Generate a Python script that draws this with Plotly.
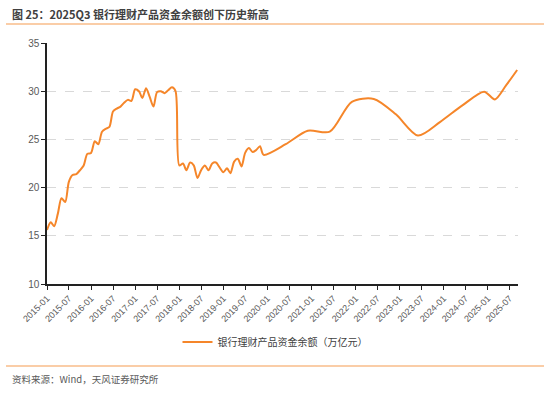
import pandas as pd
import plotly.graph_objects as go

# Monthly balances 2015-01 .. 2019-12 (万亿元)
monthly_values = [
    15.6, 16.4, 16.0, 17.3, 18.9, 18.5, 20.6, 21.3, 21.4, 21.8, 22.3, 23.5,
    23.6, 24.8, 24.5, 25.8, 26.1, 26.3, 27.9, 28.2, 28.4, 28.8, 29.1, 29.0,
    30.2, 30.0, 29.3, 30.3, 29.4, 28.4, 29.9, 30.0, 29.8, 30.1, 30.4, 30.0,
    22.3, 22.5, 21.8, 22.6, 22.3, 21.0, 21.8, 22.3, 21.8, 22.5, 22.6, 22.1,
    21.6, 22.0, 21.5, 22.7, 23.0, 22.2, 23.6, 24.1, 23.7, 23.9, 24.3, 23.4,
]
monthly_dates = [d.strftime("%Y-%m-%d") for d in pd.date_range("2015-01-01", periods=len(monthly_values), freq="MS")]

# Later, sparser observations
later_dates = ["2020-06-01", "2020-12-01", "2021-06-01", "2021-12-01", "2022-06-01",
               "2022-12-01", "2023-06-01", "2023-12-01", "2024-06-01", "2024-12-01",
               "2025-03-01", "2025-06-01", "2025-09-01"]
later_values = [24.5, 25.9, 25.8, 28.9, 29.2, 27.6, 25.4, 26.8, 28.5, 29.95, 29.15, 30.6, 32.2]

dates = monthly_dates + later_dates
values = monthly_values + later_values

tick_vals = [d.strftime("%Y-%m-%d") for d in pd.date_range("2015-01-01", "2025-07-01", freq="6MS")]
tick_text = [d[:7] for d in tick_vals]

series_name = "银行理财产品资金余额（万亿元）"
title_text = "图 25：2025Q3 银行理财产品资金余额创下历史新高"
source_text = "资料来源：Wind，天风证券研究所"

ORANGE = "#F5862A"
LIGHT_ORANGE = "#F9BD8A"
FONT = "Liberation Sans, Noto Sans CJK SC, sans-serif"

fig = go.Figure()
fig.add_trace(go.Scatter(
    x=dates, y=values, mode="lines", name=series_name,
    line=dict(color=ORANGE, width=2, shape="spline", smoothing=0.8),
))

L, R, T, B = 47, 32, 43, 109
W, H = 550, 393
pw, ph = W - L - R, H - T - B

def px(x):
    return (x - L) / pw

def py(y):
    return (H - B - y) / ph

fig.update_layout(
    width=W, height=H,
    margin=dict(l=L, r=R, t=T, b=B, autoexpand=False),
    paper_bgcolor="white", plot_bgcolor="white",
    font=dict(family=FONT, color="#595959", size=10),
    showlegend=True,
    legend=dict(orientation="h", x=px(275), xanchor="center", y=py(342), yanchor="middle",
                font=dict(size=10, color="#404040", family="Noto Sans CJK SC, sans-serif")),
    xaxis=dict(
        type="date", range=["2015-01-01", "2025-09-08"],
        tickvals=tick_vals, ticktext=tick_text, tickangle=-45,
        showgrid=False, showline=True, linecolor="#222222", linewidth=1.5,
        ticks="outside", ticklen=4, tickcolor="#222222",
        tickfont=dict(size=9, color="#595959"), zeroline=False,
    ),
    yaxis=dict(
        range=[10, 35], dtick=5, showgrid=True, gridcolor="#D9D9D9", griddash="dash",
        showline=True, linecolor="#222222", linewidth=1.5,
        ticks="outside", ticklen=4, tickcolor="#222222",
        tickfont=dict(size=10, color="#595959"), zeroline=False,
    ),
    shapes=[
        dict(type="line", xref="paper", yref="paper", x0=px(6), x1=px(544), y0=py(24), y1=py(24),
             line=dict(color=LIGHT_ORANGE, width=1.5)),
        dict(type="line", xref="paper", yref="paper", x0=px(6), x1=px(544), y0=py(366), y1=py(366),
             line=dict(color=LIGHT_ORANGE, width=1.5)),
    ],
    annotations=[
        dict(text="<b>" + title_text + "</b>", xref="paper", yref="paper", x=px(10), y=py(14),
             xanchor="left", yanchor="middle", showarrow=False,
             font=dict(size=11, color="#404040", family="Noto Sans CJK SC, sans-serif")),
        dict(text=source_text, xref="paper", yref="paper", x=px(10), y=py(379),
             xanchor="left", yanchor="middle", showarrow=False,
             font=dict(size=9.5, color="#595959", family="Noto Sans CJK SC, sans-serif")),
    ],
)

fig.write_html("out.html", config={"displayModeBar": False},
               post_script="document.body.style.margin='0';")
